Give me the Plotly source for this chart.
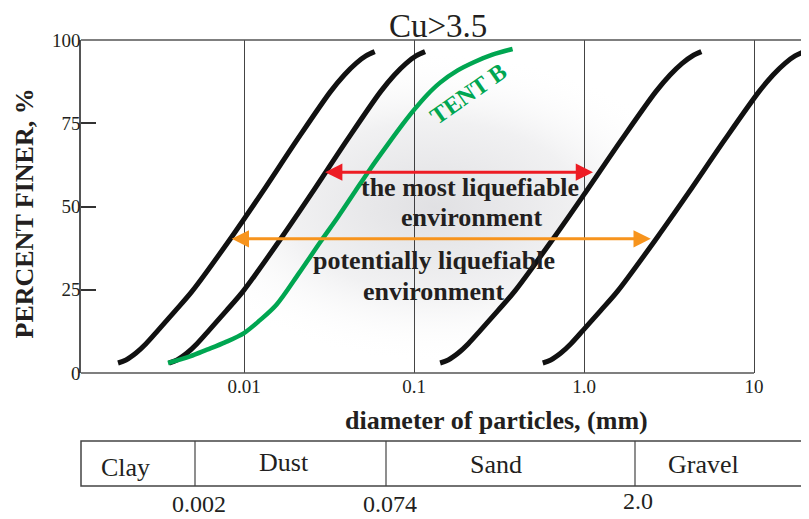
import numpy as np
import plotly.graph_objects as go

# ---------------- data ----------------
pct_black = [3, 3.9, 6, 8.8, 12.8, 18.6, 24.5, 41, 54, 70, 84.5, 89.5, 93, 95.2, 96.5]
curve1_mm = [0.001815, 0.0020222, 0.0023157, 0.0026516, 0.0031200, 0.003928, 0.004944, 0.008502,
             0.012706, 0.020515, 0.032263, 0.038884, 0.045604, 0.052108, 0.058723]
curve2_mm = [0.003621, 0.0040357, 0.0046210, 0.0052904, 0.0062245, 0.007837, 0.009865, 0.016803,
             0.025050, 0.040450, 0.063604, 0.07663, 0.08991, 0.10276, 0.11618]
curve4_mm = [0.14249, 0.15891, 0.18214, 0.20867, 0.24583, 0.30981, 0.39056, 0.67344,
             1.0138, 1.6605, 2.6465, 3.2063, 3.7792, 4.3351, 4.9024]
curve5_mm = [0.57204, 0.63780, 0.73095, 0.83792, 0.98650, 1.2452, 1.5723, 2.7198,
             4.1036, 6.7193, 10.70, 12.935, 15.22, 17.43, 19.68]

tent_b_mm = [0.003572, 0.0048132, 0.006059, 0.007731, 0.0100, 0.012374, 0.015517, 0.021070,
             0.028244, 0.035877, 0.04501, 0.05568, 0.06982, 0.085232, 0.1000, 0.11937,
             0.14249, 0.17965, 0.22646, 0.28938, 0.38010]
tent_b_pct = [3, 5, 7, 9.2, 12, 15.8, 20.5, 30, 39.5, 47, 54.5, 61.5, 68.5, 74.5, 79, 83.5,
              87.2, 90.8, 93.4, 95.6, 97.3]

arrow_most_mm = [0.0294, 1.13]
arrow_most_pct = 60.3
arrow_pot_mm = [0.0083, 2.47]
arrow_pot_pct = 40.3

x_tick_vals = [0.01, 0.1, 1, 10]
x_tick_text = ["0.01", "0.1", "1.0", "10"]
y_tick_vals = [0, 25, 50, 75, 100]

table_classes = ["Clay", "Dust", "Sand", "Gravel"]
table_bounds = ["0.002", "0.074", "2.0"]

# ---------------- layout helpers ----------------
# page coordinates of the plot area (the page body adds an 8 px margin)
OFF = 8
PAGE_W, PAGE_H = 809, 519
P_LEFT, P_RIGHT, P_TOP, P_BOTTOM = 81, 809, 40, 373
W, H = PAGE_W - OFF, PAGE_H - OFF
PW, PH = P_RIGHT - P_LEFT, P_BOTTOM - P_TOP


def px(p):
    return (p - P_LEFT) / PW


def py(p):
    return (P_BOTTOM - p) / PH


SERIF = "Liberation Serif"
INK = "#231f20"
GREEN = "#00a651"
RED = "#ed1c24"
ORANGE = "#f7941d"

x_range = [-2 - (244 - P_LEFT) / 170.0, 1 + (P_RIGHT - 754) / 170.0]

fig = go.Figure()

# soft shading of the liquefiable band (between curve 2 and curve 4)
fig.add_trace(go.Scatter(
    x=curve2_mm + curve4_mm[::-1],
    y=pct_black + pct_black[::-1],
    mode="lines", line=dict(width=0), fill="toself",
    fillgradient=dict(type="radial",
                      colorscale=[[0, "rgba(20,20,40,0.13)"], [0.55, "rgba(20,20,40,0.06)"],
                                  [1, "rgba(255,255,255,0)"]]),
    hoverinfo="skip", showlegend=False))

for xs in (curve1_mm, curve2_mm, curve4_mm, curve5_mm):
    fig.add_trace(go.Scatter(x=xs, y=pct_black, mode="lines",
                             line=dict(color="#111111", width=5, shape="spline", smoothing=0.9),
                             showlegend=False))

fig.add_trace(go.Scatter(x=tent_b_mm, y=tent_b_pct, mode="lines",
                         line=dict(color=GREEN, width=4.5, shape="spline", smoothing=0.9),
                         showlegend=False))

ann = []


def text(s, x, y, size, bold=False, color=INK, angle=0):
    ann.append(dict(text=s, x=px(x), y=py(y), xref="paper", yref="paper",
                    showarrow=False, xanchor="center", yanchor="middle", textangle=angle,
                    borderpad=0,
                    font=dict(family=SERIF, size=size, color=color,
                              weight="bold" if bold else "normal")))


# arrows
for mm, lvl, col in ((arrow_most_mm, arrow_most_pct, RED), (arrow_pot_mm, arrow_pot_pct, ORANGE)):
    ann.append(dict(text="", x=np.log10(mm[1]), y=lvl, ax=np.log10(mm[0]), ay=lvl,
                    xref="x", yref="y", axref="x", ayref="y", showarrow=True,
                    arrowhead=2, startarrowhead=2, arrowside="end+start",
                    arrowwidth=3, arrowsize=1.15, startarrowsize=1.15, arrowcolor=col))

text("the most liquefiable", 470, 187, 26, bold=True)
text("environment", 471, 218, 26, bold=True)
text("potentially liquefiable", 434, 260, 26, bold=True)
text("environment", 433, 291, 26, bold=True)
text("TENT B", 468, 94, 24, bold=True, color=GREEN, angle=-35)

text("Cu&gt;3.5", 438, 26, 33)
text("PERCENT FINER, %", 23.5, 214, 26, bold=True, angle=-90)
text("diameter of particles, (mm)", 496, 420, 26, bold=True)

# classification table
class_centers = [(125, 467), (284, 462), (496, 464), (703, 464)]
for name, (cx, cy) in zip(table_classes, class_centers):
    text(name, cx, cy, 26)
bound_centers = [(199, 504), (390, 504), (638, 501)]
for name, (cx, cy) in zip(table_bounds, bound_centers):
    text(name, cx, cy, 24)

shapes = []
FRAME = "#555555"
shapes.append(dict(type="line", xref="paper", yref="paper", x0=0, x1=1, y0=1, y1=1,
                   line=dict(color=FRAME, width=1.5)))
x10 = (1 - x_range[0]) / (x_range[1] - x_range[0])
shapes.append(dict(type="line", xref="paper", yref="paper", x0=0, x1=x10, y0=0, y1=0,
                   line=dict(color=FRAME, width=1.5)))
shapes.append(dict(type="rect", xref="paper", yref="paper", x0=px(81), x1=px(807), y0=py(441), y1=py(486),
                   line=dict(color="#444444", width=1.5)))
for xd in (195, 386, 635):
    shapes.append(dict(type="line", xref="paper", yref="paper", x0=px(xd), x1=px(xd), y0=py(441), y1=py(486),
                       line=dict(color="#444444", width=1.2)))

fig.update_layout(
    width=W, height=H,
    margin=dict(l=P_LEFT - OFF, r=PAGE_W - P_RIGHT, t=P_TOP - OFF, b=PAGE_H - P_BOTTOM, autoexpand=False),
    paper_bgcolor="white", plot_bgcolor="white",
    annotations=ann, shapes=shapes, showlegend=False,
    xaxis=dict(type="log", range=x_range, tickvals=x_tick_vals, ticktext=x_tick_text,
               showgrid=True, gridcolor="#444444", gridwidth=1, showline=False, zeroline=False,
               ticks="", tickfont=dict(family=SERIF, size=19, color=INK)),
    yaxis=dict(range=[0, 100], tickvals=y_tick_vals, showgrid=False, zeroline=False,
               showline=True, linecolor=FRAME, linewidth=1.5,
               ticks="inside", ticklen=15, tickwidth=1.5, tickcolor="#333333",
               ticklabelstandoff=-5,
               tickfont=dict(family=SERIF, size=19, color=INK)),
)

fig.write_html("out.html")
